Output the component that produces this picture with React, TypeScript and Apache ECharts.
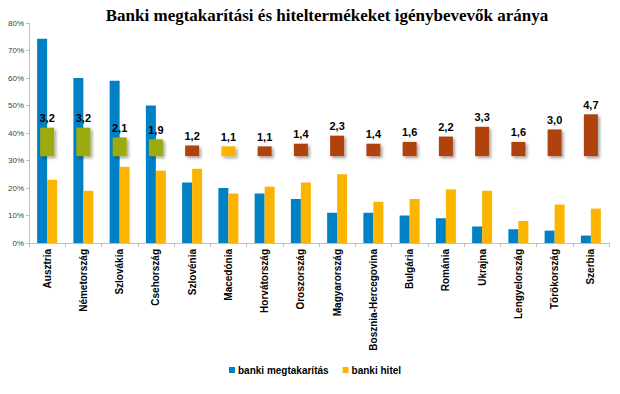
import React, { useEffect, useRef } from "react";
import * as echarts from "echarts";

const categories = [
  "Ausztria", "Németország", "Szlovákia", "Csehország", "Szlovénia", "Macedónia",
  "Horvátország", "Oroszország", "Magyarország", "Bosznia-Hercegovina", "Bulgária",
  "Románia", "Ukrajna", "Lengyelország", "Törökország", "Szerbia",
];
const savings = [74.3, 60, 59, 50, 22, 20, 18, 16, 11, 11, 10, 9, 6, 5, 4.5, 2.7];
const credit = [23, 19, 27.7, 26.3, 27, 18, 20.5, 22, 25, 15, 16, 19.5, 19, 8, 14, 12.5];
const ratio = [3.2, 3.2, 2.1, 1.9, 1.2, 1.1, 1.1, 1.4, 2.3, 1.4, 1.6, 2.2, 3.3, 1.6, 3.0, 4.7];
const yTicks = [0, 10, 20, 30, 40, 50, 60, 70, 80];

const BLUE = "#0081C6";
const ORANGE = "#FDB400";
const GREEN = "#9BAA08";
const BROWN = "#B0430E";
const boxColor = (i: number) => (i < 4 ? GREEN : i === 5 ? ORANGE : BROWN);

export default function App() {
  const ref = useRef<HTMLDivElement>(null);
  useEffect(() => {
    if (!ref.current) return;
    const chart = echarts.init(ref.current, undefined, { renderer: "svg" });
    chart.setOption({
      animation: false,
      backgroundColor: "#ffffff",
      textStyle: { fontFamily: "Liberation Sans, Arial, sans-serif" },
      title: {
        text: "Banki megtakarítási és hiteltermékeket igénybevevők aránya",
        left: 322,
        textAlign: "center",
        top: 2,
        textStyle: {
          fontFamily: "Liberation Serif, serif",
          fontWeight: "bold",
          fontSize: 17,
          color: "#000",
        },
      },
      legend: {
        data: ["banki megtakarítás", "banki hitel"],
        top: 360,
        left: 224,
        icon: "rect",
        itemWidth: 6,
        itemHeight: 6,
        itemGap: 14,
        textStyle: { fontWeight: "bold", fontSize: 10, color: "#000", padding: [0, 0, 0, -2] },
      },
      grid: { left: 29, right: 11, top: 23, bottom: 151, containLabel: false },
      xAxis: [
        {
          type: "category",
          data: categories,
          axisLine: { lineStyle: { color: "#BFBFBF" } },
          axisTick: { show: true, length: 4, lineStyle: { color: "#BFBFBF" } },
          axisLabel: {
            rotate: 90,
            interval: 0,
            fontWeight: "bold",
            fontSize: 10,
            color: "#000",
            margin: 6,
          },
        },
        { type: "category", data: categories, show: false },
      ],
      yAxis: [
        {
          type: "value",
          min: yTicks[0],
          max: yTicks[yTicks.length - 1],
          interval: 10,
          splitLine: { show: false },
          axisLine: { show: true, lineStyle: { color: "#BFBFBF" } },
          axisTick: { show: true, length: 3, lineStyle: { color: "#BFBFBF" } },
          axisLabel: { formatter: "{value}%", fontSize: 8, color: "#404040", margin: 5 },
        },
        { type: "value", min: -9.75, max: 14.95, show: false, splitLine: { show: false } },
      ],
      series: [
        {
          name: "banki megtakarítás",
          type: "bar",
          data: savings,
          barWidth: 10,
          barGap: "0%",
          itemStyle: { color: BLUE },
        },
        {
          name: "banki hitel",
          type: "bar",
          data: credit,
          barWidth: 10,
          barGap: "0%",
          itemStyle: { color: ORANGE },
        },
        {
          name: "arány",
          type: "bar",
          xAxisIndex: 1,
          yAxisIndex: 1,
          z: 5,
          barWidth: 14,
          data: ratio.map((v, i) => ({
            value: v,
            itemStyle: {
              color: boxColor(i),
              shadowBlur: 3,
              shadowColor: "rgba(0,0,0,0.35)",
              shadowOffsetX: 2,
              shadowOffsetY: 2,
            },
          })),
          label: {
            show: true,
            position: "top",
            distance: 4,
            fontWeight: "bold",
            fontSize: 11,
            color: "#000",
            formatter: (p: any) => Number(p.value).toFixed(1).replace(".", ","),
          },
        },
      ],
    });
    return () => chart.dispose();
  }, []);
  return (
    <div
      ref={ref}
      style={{ position: "fixed", left: 0, top: 0, width: 620, height: 394, background: "#fff" }}
    />
  );
}
